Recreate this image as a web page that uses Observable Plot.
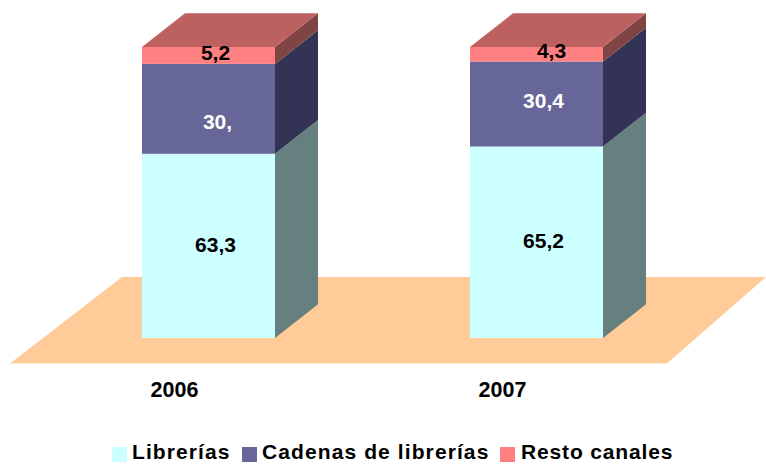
<!DOCTYPE html>
<html>
<head>
<meta charset="utf-8">
<script src="https://cdn.jsdelivr.net/npm/d3@7"></script>
<script src="https://cdn.jsdelivr.net/npm/@observablehq/plot@0.6"></script>
<style>
html,body{margin:0;padding:0;background:#fff;overflow:hidden}
svg{display:block}
#legend{position:relative;height:34px;font:bold 21px "Liberation Sans",Arial,sans-serif;color:#000}
#legend span{position:absolute;top:10px;white-space:nowrap;line-height:24px}
#legend i{position:absolute;top:17px;width:15px;height:15px}
</style>
</head>
<body>
<div id="chart"></div>
<div id="legend"></div>
<script>
const years = [2006, 2007];
const seriesNames = ["Librerías", "Cadenas de librerías", "Resto canales"];
const librerias = [63.3, 65.8];
const cadenas = [30.9, 29.2];
const resto = [5.8, 5.0];
const labelsLibrerias = ["63,3", "65,2"];
const labelsCadenas = ["30,", "30,4"];
const labelsResto = ["5,2", "4,3"];

const frontColors = ["#ccffff", "#666699", "#ff8080"];
const sideColors = ["#667f7f", "#333355", "#814444"];
const topColor = "#bd6060";
const floorColor = "#ffcc99";
const labelColors = ["#000", "#fff", "#000"];

// Layout in data units: years on x, percent on y
const W = 766, H = 430, bottom = 60;
const pxX = 328, pxY = 2.91, base = 338;
const halfBar = 66.5 / pxX, depthX = 43 / pxX, depthY = 33.7 / pxY;
const xOf = (px) => 2006 + (px - 208.5) / pxX;
const yOf = (px) => (base - px) / pxY;

const stacks = [librerias, cadenas, resto];
const segs = [];
years.forEach((year, i) => {
  let y0 = 0;
  stacks.forEach((s, k) => {
    segs.push({year, k, y0, y1: y0 + s[i]});
    y0 += s[i];
  });
});

const sideRows = segs.flatMap((d) => [
  {id: d.year + "-" + d.k, k: d.k, x: d.year + halfBar, lo: d.y0, hi: d.y1},
  {id: d.year + "-" + d.k, k: d.k, x: d.year + halfBar + depthX, lo: d.y0 + depthY, hi: d.y1 + depthY}
]);
const topRows = segs.filter((d) => d.k === 2).flatMap((d) => [
  {year: d.year, y: d.y1, x1: d.year - halfBar, x2: d.year + halfBar},
  {year: d.year, y: d.y1 + depthY, x1: d.year - halfBar + depthX, x2: d.year + halfBar + depthX}
]);
const floorRows = [
  {y: yOf(363.5), x1: xOf(10), x2: xOf(667)},
  {y: yOf(277), x1: xOf(122), x2: xOf(766)}
];
const labelRows = [
  ...years.map((year, i) => ({k: 0, t: labelsLibrerias[i], y: yOf([245, 241][i]), x: xOf([215, 543][i])})),
  ...years.map((year, i) => ({k: 1, t: labelsCadenas[i], y: yOf([122, 101][i]), x: xOf([217, 543][i])})),
  ...years.map((year, i) => ({k: 2, t: labelsResto[i], y: yOf([53, 51][i]), x: xOf([215, 551][i])}))
];

const font = '"Liberation Sans", Arial, sans-serif';
const plot = Plot.plot({
  width: W, height: H,
  marginTop: 0, marginLeft: 0, marginRight: 0, marginBottom: bottom,
  x: {domain: [xOf(0), xOf(W)], axis: null},
  y: {domain: [yOf(H - bottom), yOf(0)], axis: null},
  style: {background: "#fff", fontFamily: font},
  marks: [
    Plot.areaX(floorRows, {y: "y", x1: "x1", x2: "x2", fill: floorColor}),
    Plot.rect(segs, {
      x1: (d) => d.year - halfBar, x2: (d) => d.year + halfBar,
      y1: "y0", y2: "y1", fill: (d) => frontColors[d.k]
    }),
    Plot.areaY(sideRows, {x: "x", y1: "lo", y2: "hi", z: "id", fill: (d) => sideColors[d.k]}),
    Plot.areaX(topRows, {y: "y", x1: "x1", x2: "x2", z: "year", fill: topColor}),
    Plot.text(labelRows, {
      x: "x", y: "y", text: "t", fill: (d) => labelColors[d.k],
      fontSize: 21, fontWeight: "bold", fontFamily: font
    }),
    Plot.axisX({
      anchor: "bottom", ticks: years, tickFormat: "d", tickSize: 0, tickPadding: 11,
      dx: -34.5, fontSize: 21.5, fontWeight: "bold", fontFamily: font, label: null, color: "#000"
    })
  ]
});
document.getElementById("chart").append(plot);

const legend = document.getElementById("legend");
[[112, 132, 1.1], [242, 262, 1.1], [500, 521, 0.85]].forEach(([sx, tx, ls], i) => {
  const sw = document.createElement("i");
  sw.style.left = sx + "px";
  sw.style.background = frontColors[i];
  legend.append(sw);
  const sp = document.createElement("span");
  sp.style.left = tx + "px";
  sp.style.letterSpacing = ls + "px";
  sp.textContent = seriesNames[i];
  legend.append(sp);
});
</script>
</body>
</html>
